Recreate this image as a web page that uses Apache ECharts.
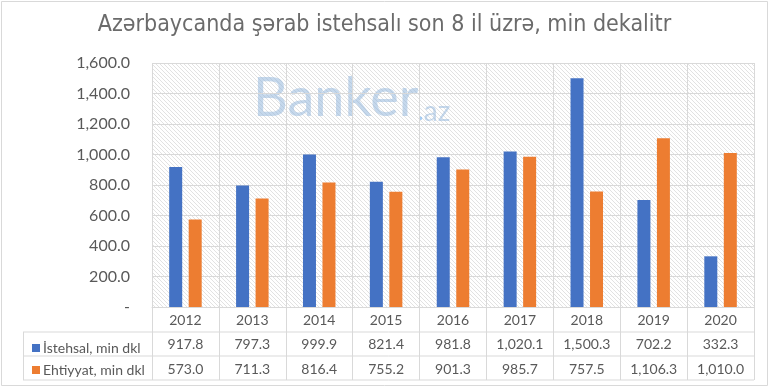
<!DOCTYPE html>
<html><head><meta charset="utf-8">
<script src="https://cdn.jsdelivr.net/npm/echarts@6/dist/echarts.min.js"></script>
<style>html,body{margin:0;padding:0;background:#fff}#c{width:769px;height:387px}</style>
</head><body><div id="c"></div>
<script>
var titleText = 'Azərbaycanda şərab istehsalı son 8 il üzrə, min dekalitr';
var categories = ['2012','2013','2014','2015','2016','2017','2018','2019','2020'];
var seriesNames = ['İstehsal, min dkl','Ehtiyyat, min dkl'];
var istehsal = [917.8, 797.3, 999.9, 821.4, 981.8, 1020.1, 1500.3, 702.2, 332.3];
var ehtiyyat = [573.0, 711.3, 816.4, 755.2, 901.3, 985.7, 757.5, 1106.3, 1010.0];
var colors = ['#4472C4','#ED7D31'];

function fmt(v){ return Number(v).toLocaleString('en-US',{minimumFractionDigits:1,maximumFractionDigits:1}); }

var cv = document.createElement('canvas'); cv.width = 4; cv.height = 4;
var cx = cv.getContext('2d');
cx.strokeStyle = '#e2e2e2'; cx.lineWidth = 1;
cx.beginPath(); cx.moveTo(-1,-1); cx.lineTo(5,5); cx.stroke();

var FONT = 'Lato, "Open Sans", sans-serif';
var G = {left:152, right:15, top:63, bottom:80};
var W = 769, H = 387;
var axisY = H - G.bottom;
var rowH = 24;
var lc = '#d9d9d9';

var chart = echarts.init(document.getElementById('c'));
chart.setOption({
  animation:false,
  backgroundColor:'#fff',
  title:{text:titleText,left:'center',top:9,textStyle:{fontFamily:'"Liberation Sans Narrow","DejaVu Sans Condensed",Lato,sans-serif',fontSize:23,fontWeight:'normal',color:'#6b6b6b'}},
  legend:{orient:'vertical',left:27,top:axisY+rowH+5,itemWidth:8,itemHeight:8,itemGap:8,icon:'rect',
    textStyle:{fontFamily:FONT,fontSize:14,color:'#595959',padding:[0,0,0,-2]},data:seriesNames,selectedMode:false},
  grid:{left:G.left,right:G.right,top:G.top,bottom:G.bottom,show:true,borderWidth:0,backgroundColor:{image:cv,repeat:'repeat'}},
  xAxis:{type:'category',data:categories,
    axisLine:{show:true,lineStyle:{color:lc}},
    axisTick:{show:true,length:rowH*3+1,lineStyle:{color:lc}},
    splitLine:{show:true,lineStyle:{color:lc}},
    axisLabel:{margin:1,interval:0,
      formatter:function(v,i){return v+'\n'+fmt(istehsal[i])+'\n'+fmt(ehtiyyat[i]);},
      fontFamily:FONT,fontSize:14,color:'#595959',lineHeight:24.5}},
  yAxis:{type:'value',min:0,max:1600,interval:200,
    axisLine:{show:false},axisTick:{show:false},
    splitLine:{lineStyle:{color:lc}},
    axisLabel:{margin:22,fontFamily:FONT,fontSize:16,color:'#595959',formatter:function(v){return v===0?'-':fmt(v);}}},
  series:[
    {name:seriesNames[0],type:'bar',data:istehsal,barWidth:13,barGap:'50%',itemStyle:{color:colors[0]}},
    {name:seriesNames[1],type:'bar',data:ehtiyyat,barWidth:13,itemStyle:{color:colors[1]}}
  ],
  graphic:[
    {type:'rect',shape:{x:1.5,y:1.5,width:W-3,height:H-3},style:{fill:null,stroke:lc,lineWidth:1},silent:true},
    {type:'line',shape:{x1:23,y1:axisY+rowH+1,x2:W-G.right,y2:axisY+rowH+1},style:{stroke:lc,lineWidth:1}},
    {type:'line',shape:{x1:23,y1:axisY+2*rowH+1,x2:W-G.right,y2:axisY+2*rowH+1},style:{stroke:lc,lineWidth:1}},
    {type:'line',shape:{x1:23,y1:axisY+3*rowH+1,x2:W-G.right,y2:axisY+3*rowH+1},style:{stroke:lc,lineWidth:1}},
    {type:'line',shape:{x1:23.5,y1:axisY+rowH+1,x2:23.5,y2:axisY+3*rowH+1},style:{stroke:lc,lineWidth:1}},
    {type:'text',left:253,top:72,z:0,silent:true,style:{
      text:'{a|Banker}{d|•}{b|az}',
      rich:{a:{fontFamily:'Lato, sans-serif',fontSize:54,fill:'rgba(140,178,218,0.5)'},
            d:{fontSize:12,fill:'rgba(110,175,240,0.6)',verticalAlign:'bottom',padding:[0,1,0,0]},
            b:{fontFamily:'Lato, sans-serif',fontSize:28,fill:'rgba(140,178,218,0.5)',verticalAlign:'bottom'}}}}
  ]
});
</script></body></html>
